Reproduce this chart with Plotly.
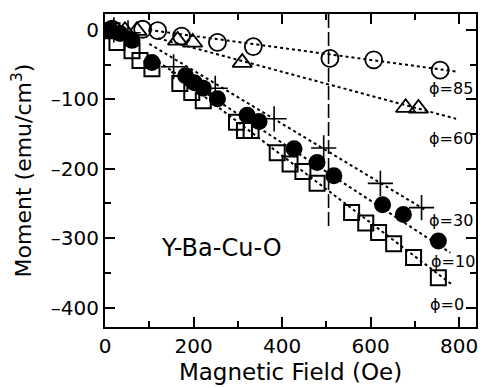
import plotly.graph_objects as go

# ---- data ----
# phi = 85 (open circles)
x85 = [16, 85, 119, 173, 254, 335, 508, 607, 757]
y85 = [1, 1, -1, -9, -18, -24, -41, -43, -58]
# phi = 60 (open triangles)
x60 = [16, 45, 72, 164, 198, 310, 679, 708]
y60 = [0, -1, -1, -15, -18, -47, -112, -113]
# phi = 30 (crosses)
x30 = [20, 52, 155, 249, 382, 494, 622, 715]
y30 = [0, -4, -53, -84, -128, -170, -221, -256]
# phi = 10 (filled circles)
x10 = [12, 34, 61, 106, 182, 202, 222, 254, 321, 348, 427, 479, 517, 627, 674, 753]
y10 = [0, -5, -15, -47, -66, -76, -84, -99, -123, -132, -171, -191, -210, -252, -266, -304]
# phi = 0 (open squares)
x0 = [16, 27, 61, 79, 106, 169, 196, 222, 297, 315, 330, 389, 418, 447, 479, 557, 589, 618, 652, 697, 753]
y0 = [-1, -18, -30, -44, -56, -77, -90, -102, -133, -145, -145, -177, -193, -204, -221, -263, -278, -292, -308, -328, -357]

# dotted guide lines (start/end points for each angle)
fit85_x = [100, 795]; fit85_y = [0, -60]
fit60_x = [120, 793]; fit60_y = [-12, -128]
fit30_x = [100, 725]; fit30_y = [-20, -260]
fit10_x = [120, 780]; fit10_y = [-46, -321]
fit0_x = [150, 782]; fit0_y = [-60, -366]

# vertical dashed marker line
vline_x = [505, 505]; vline_y = [23, -283]

# curve labels
lab_text = ["\u03d5=85", "\u03d5=60", "\u03d5=30", "\u03d5=10", "\u03d5=0"]
lab_x = [782, 782, 782, 787, 772]
lab_y = [-84, -157, -275, -333, -396]

x_tick_vals = [0, 200, 400, 600, 800]
x_tick_text = ["0", "200", "400", "600", "800"]
y_tick_vals = [0, -100, -200, -300, -400]
y_tick_text = ["0", "\u2013100", "\u2013200", "\u2013300", "\u2013400"]

FONT = "DejaVu Sans"
fig = go.Figure()

dot = dict(color="black", width=2, dash="dot")
for fx, fy in [(fit85_x, fit85_y), (fit60_x, fit60_y), (fit30_x, fit30_y),
               (fit10_x, fit10_y), (fit0_x, fit0_y)]:
    fig.add_trace(go.Scatter(x=fx, y=fy, mode="lines", line=dot, hoverinfo="skip"))

fig.add_trace(go.Scatter(x=vline_x, y=vline_y, mode="lines",
                         line=dict(color="black", width=1.6, dash="14px,4px")))

fig.add_trace(go.Scatter(x=x85, y=y85, mode="markers",
                         marker=dict(symbol="circle-open", size=17, color="black",
                                     line=dict(width=1.8, color="black"))))
fig.add_trace(go.Scatter(x=x60, y=y60, mode="markers",
                         marker=dict(symbol="triangle-up-open", size=17, color="black",
                                     line=dict(width=1.8, color="black"))))
fig.add_trace(go.Scatter(x=x30, y=y30, mode="markers",
                         marker=dict(symbol="cross-thin-open", size=18, color="black",
                                     line=dict(width=1.6, color="black"))))
fig.add_trace(go.Scatter(x=x0, y=y0, mode="markers",
                         marker=dict(symbol="square-open", size=15, color="black",
                                     line=dict(width=2, color="black"))))
fig.add_trace(go.Scatter(x=x10, y=y10, mode="markers",
                         marker=dict(symbol="circle", size=17, color="black",
                                     line=dict(width=0))))

for t, lx, ly in zip(lab_text, lab_x, lab_y):
    fig.add_annotation(x=lx, y=ly, text=t, showarrow=False,
                       font=dict(family=FONT, size=16, color="black"))

fig.add_annotation(x=263, y=-314, text="Y-Ba-Cu-O", showarrow=False,
                   font=dict(family=FONT, size=24, color="black"))

axis_common = dict(showline=True, linecolor="black", linewidth=2, mirror="ticks",
                   ticks="inside", ticklen=10, tickwidth=1.5, tickcolor="black",
                   showgrid=False, zeroline=False,
                   tickfont=dict(family=FONT, size=20, color="black"))

fig.update_xaxes(range=[0, 838], tickmode="array", tickvals=x_tick_vals, ticktext=x_tick_text,
                 minor=dict(ticks="inside", ticklen=6, dtick=100, tick0=0, tickwidth=1.5, tickcolor="black"),
                 title=dict(text="Magnetic Field (Oe)", font=dict(family=FONT, size=23, color="black"), standoff=7),
                 **axis_common)
fig.update_yaxes(range=[-428, 23], tickmode="array", tickvals=y_tick_vals, ticktext=y_tick_text,
                 minor=dict(ticks="inside", ticklen=6, dtick=50, tick0=0, tickwidth=1.5, tickcolor="black"),
                 title=dict(text="Moment (emu/cm<sup>3</sup>)", font=dict(family=FONT, size=22, color="black"), standoff=13),
                 **axis_common)

fig.update_layout(width=483, height=388, margin=dict(l=105, r=5, t=14, b=61),
                  paper_bgcolor="white", plot_bgcolor="white", showlegend=False)

fig.write_html("out.html")
